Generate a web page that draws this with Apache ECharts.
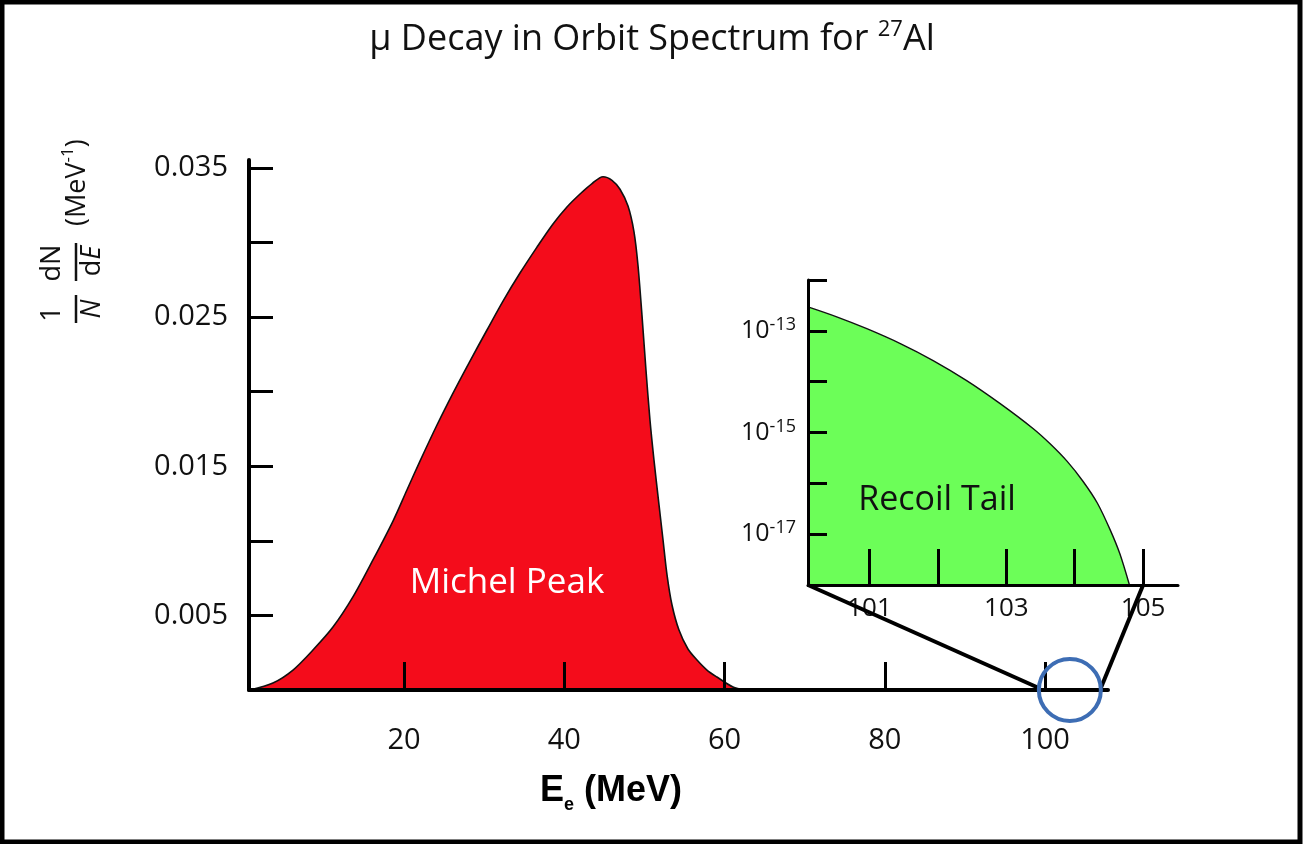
<!DOCTYPE html>
<html><head><meta charset="utf-8">
<script src="https://cdn.jsdelivr.net/npm/echarts@6/dist/echarts.min.js"></script>
<style>html,body{margin:0;padding:0;background:#fff}#c{width:1303px;height:844px}</style>
</head><body><div id="c"></div>
<script>
// ---- data ----
const mainEnergy  = [0.78, 3.65, 6.15, 8.64, 11.14, 13.63, 16.13, 18.63, 20.37, 22.0, 24.12, 26.12, 28.24, 30.36, 32.36, 34.48, 36.6, 38.6, 40.34, 41.97, 43.47, 44.84, 45.96, 46.96, 47.96, 48.71, 49.2, 49.7, 50.2, 50.7, 51.2, 51.83, 52.33, 52.83, 53.45, 54.32, 55.44, 56.57, 57.81, 59.06, 61.06, 62.56];
const mainDensity = [0, 0.00047, 0.00134, 0.00268, 0.00422, 0.00624, 0.00872, 0.01133, 0.01341, 0.01535, 0.01777, 0.01991, 0.02206, 0.02414, 0.02608, 0.02796, 0.0297, 0.03125, 0.03239, 0.03326, 0.03396, 0.03442, 0.03418, 0.03358, 0.03245, 0.03071, 0.0285, 0.02514, 0.02146, 0.0181, 0.01542, 0.0124, 0.01006, 0.00771, 0.0057, 0.00402, 0.00275, 0.00201, 0.00134, 0.00087, 0.0002, 0];
const insetEnergy  = [100.1, 100.52, 100.96, 101.45, 101.93, 102.42, 102.91, 103.39, 103.64, 103.89, 104.12, 104.33, 104.52, 104.66, 104.8];
const insetDensity = [2.95e-13, 1.88e-13, 1.1e-13, 5.6e-14, 2.6e-14, 1.05e-14, 3.7e-15, 1.2e-15, 6.0e-16, 2.7e-16, 1.1e-16, 4.1e-17, 1.2e-17, 4.1e-18, 1e-18];
const mainXTicks = [20, 40, 60, 80, 100];
const mainYTicks = [0.005, 0.01, 0.015, 0.02, 0.025, 0.03, 0.035];
const mainYLabels = [0.005, 0.015, 0.025, 0.035];
const insetXTicks = [101, 102, 103, 104, 105];
const insetXLabels = [101, 103, 105];
const zoomCenter = [103.1, 0];

const FONT = '"Open Sans", "DejaVu Sans", sans-serif';
const chart = echarts.init(document.getElementById('c'), null, {renderer: 'canvas'});

const axBase = {splitLine: {show: false}, z: 5};

chart.setOption({
  animation: false,
  backgroundColor: '#fff',
  grid: [
    {left: 249, right: 195, top: 160, bottom: 154},
    {left: 808, right: 125, top: 280, bottom: 259}
  ],
  xAxis: [
    Object.assign({}, axBase, {
      gridIndex: 0, type: 'value', min: 0.66, max: 107.86,
      axisLine: {onZero: false, lineStyle: {color: '#000', width: 4}},
      axisTick: {inside: true, length: 28, lineStyle: {color: '#000', width: 3}, customValues: mainXTicks},
      axisLabel: {customValues: mainXTicks, margin: 36, fontSize: 29, fontFamily: FONT, color: '#111'}
    }),
    Object.assign({}, axBase, {
      gridIndex: 1, type: 'value', min: 100.1, max: 105.51,
      axisLine: {onZero: false, lineStyle: {color: '#000', width: 3}},
      axisTick: {inside: true, length: 36, lineStyle: {color: '#000', width: 3}, customValues: insetXTicks},
      axisLabel: {customValues: insetXLabels, margin: 11, fontSize: 26, fontFamily: FONT, color: '#111'}
    })
  ],
  yAxis: [
    Object.assign({}, axBase, {
      gridIndex: 0, type: 'value', min: 0, max: 0.03554,
      axisLine: {show: true, onZero: false, lineStyle: {color: '#000', width: 4}},
      axisTick: {show: true, inside: true, length: 24, lineStyle: {color: '#000', width: 3}, customValues: mainYTicks},
      axisLabel: {customValues: mainYLabels, formatter: v => Number(v).toFixed(3), margin: 21, fontSize: 29, fontFamily: FONT, color: '#111'}
    }),
    Object.assign({}, axBase, {
      gridIndex: 1, type: 'log', logBase: 10, min: 1e-18, max: 1e-12,
      axisLine: {show: true, onZero: false, lineStyle: {color: '#000', width: 3}},
      axisTick: {show: true, inside: true, length: 19, lineStyle: {color: '#000', width: 3}},
      axisLabel: {
        margin: 12, fontSize: 25, fontFamily: FONT, color: '#111', lineHeight: 30,
        formatter: v => {
          const e = Math.round(Math.log10(v));
          return (e % 2 !== 0 && e > -18 && e < -12) ? '10{s|' + e + '}' : '';
        },
        rich: {s: {fontSize: 18, fontFamily: FONT, color: '#111', verticalAlign: 'top', lineHeight: 16}}
      }
    })
  ],
  series: [
    {
      type: 'line', xAxisIndex: 0, yAxisIndex: 0, z: 1,
      data: mainEnergy.map((e, i) => [e, mainDensity[i]]),
      smooth: 0.3, showSymbol: false, symbol: 'none',
      lineStyle: {color: '#111', width: 1.6},
      areaStyle: {color: '#f40c1b', opacity: 1, origin: 'start'}
    },
    {
      type: 'line', xAxisIndex: 1, yAxisIndex: 1, z: 1,
      data: insetEnergy.map((e, i) => [e, insetDensity[i]]),
      smooth: 0.3, showSymbol: false, symbol: 'none',
      lineStyle: {color: '#111', width: 1.4},
      areaStyle: {color: '#6cfe58', opacity: 1, origin: 'start'}
    }
  ]
});

// annotation geometry derived from the chart's own coordinate systems
const insetOrigin = chart.convertToPixel({gridIndex: 1}, [100.1, 1e-18]);
const insetEnd = chart.convertToPixel({gridIndex: 1}, [105, 1e-18]);
const ctr = chart.convertToPixel({gridIndex: 0}, zoomCenter);
const R = 31;

chart.setOption({
  graphic: [
    {type: 'rect', z: 100, silent: true, shape: {x: 2, y: 2, width: 1298, height: 840},
     style: {fill: null, stroke: '#000', lineWidth: 5}},
    {type: 'text', z: 100, x: 652, y: 40,
     style: {text: 'μ Decay in Orbit Spectrum for {s|27}Al', fill: '#111', font: '36px ' + FONT,
             align: 'center', verticalAlign: 'middle', lineHeight: 42,
             rich: {s: {fontSize: 22, fontFamily: FONT, fill: '#111', verticalAlign: 'top', lineHeight: 24}}}},
    {type: 'text', z: 100, x: 611, y: 791,
     style: {text: '{b|E}{s|e}{b| (MeV)}', align: 'center', verticalAlign: 'middle', fill: '#000',
             rich: {b: {fontSize: 36, fontWeight: 'bold', fontFamily: '"Liberation Sans", Arial, sans-serif', lineHeight: 46, verticalAlign: 'middle'},
                    s: {fontSize: 18, fontWeight: 'bold', fontFamily: '"Liberation Sans", Arial, sans-serif', lineHeight: 14, verticalAlign: 'bottom'}}}},
    {type: 'group', z: 100, x: 76, y: 323, rotation: Math.PI / 2, children: [
      {type: 'text', x: 9, y: -24, style: {text: '1', font: '27px ' + FONT, fill: '#111', align: 'center', verticalAlign: 'middle'}},
      {type: 'line', shape: {x1: 0, y1: 0, x2: 28, y2: 0}, style: {stroke: '#111', lineWidth: 2.5}},
      {type: 'text', x: 14, y: 16, style: {text: 'N', font: 'italic 27px ' + FONT, fill: '#111', align: 'center', verticalAlign: 'middle'}},
      {type: 'text', x: 60, y: -24, style: {text: 'dN', font: '27px ' + FONT, fill: '#111', align: 'center', verticalAlign: 'middle'}},
      {type: 'line', shape: {x1: 42, y1: 0, x2: 80, y2: 0}, style: {stroke: '#111', lineWidth: 2.5}},
      {type: 'text', x: 62, y: 16, style: {text: 'd{i|E}', font: '27px ' + FONT, fill: '#111', align: 'center', verticalAlign: 'middle',
        rich: {i: {fontStyle: 'italic', fontSize: 27, fontFamily: FONT, fill: '#111'}}}},
      {type: 'text', x: 97, y: 1, style: {text: '(MeV{s|-1})', font: '27px ' + FONT, fill: '#111', align: 'left', verticalAlign: 'middle', lineHeight: 34,
        rich: {s: {fontSize: 17, fontFamily: FONT, fill: '#111', verticalAlign: 'top', lineHeight: 16}}}}
    ]},
    {type: 'text', z: 100, x: 507, y: 583,
     style: {text: 'Michel Peak', font: '35px ' + FONT, fill: '#fff', align: 'center', verticalAlign: 'middle'}},
    {type: 'text', z: 100, x: 937, y: 500,
     style: {text: 'Recoil Tail', font: '34px ' + FONT, fill: '#111', align: 'center', verticalAlign: 'middle'}},
    {type: 'line', z: 100, shape: {x1: insetOrigin[0], y1: insetOrigin[1], x2: ctr[0] - R, y2: ctr[1] - 2},
     style: {stroke: '#000', lineWidth: 4}},
    {type: 'line', z: 100, shape: {x1: insetEnd[0], y1: insetEnd[1], x2: ctr[0] + R, y2: ctr[1] - 2},
     style: {stroke: '#000', lineWidth: 4}},
    {type: 'circle', z: 101, shape: {cx: ctr[0], cy: ctr[1], r: R},
     style: {fill: null, stroke: '#3d6db4', lineWidth: 4}}
  ]
});
</script></body></html>
